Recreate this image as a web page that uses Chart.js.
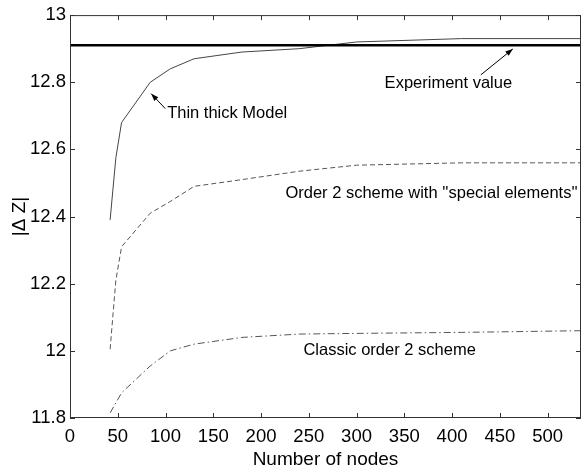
<!DOCTYPE html>
<html>
<head>
<meta charset="utf-8">
<script src="https://cdn.jsdelivr.net/npm/chart.js@4"></script>
<style>
  html, body { margin: 0; padding: 0; background: #fff; }
</style>
</head>
<body>
<canvas id="nodesChart" width="582" height="473"></canvas>
<script>
// values
const nodes = [42, 48, 54, 84, 105, 130, 180, 240, 300, 410, 535];
const thinThick = [12.39, 12.575, 12.68, 12.80, 12.84, 12.87, 12.89, 12.90, 12.92, 12.93, 12.93];
const order2Special = [12.005, 12.21, 12.31, 12.41, 12.445, 12.49, 12.51, 12.535, 12.553, 12.56, 12.56];
const classicOrder2 = [11.815, 11.845, 11.875, 11.955, 12.0, 12.02, 12.04, 12.05, 12.052, 12.055, 12.06];
const expNodes = [0, 535];
const expValue = [12.91, 12.91];

const xTicks = [0, 50, 100, 150, 200, 250, 300, 350, 400, 450, 500];
const yTicks = [11.8, 12, 12.2, 12.4, 12.6, 12.8, 13];

function pts(xs, ys) {
    return xs.map((x, i) => ({ x: x, y: ys[i] }));
}

const FONT = '"Liberation Sans", Arial, sans-serif';

// labels with arrows, placed in data units
const notes = [
    { text: 'Thin thick Model', x: 101.7, y: 12.707, arrow: [99.7, 12.7215, 85.0, 12.766] },
    { text: 'Experiment value', x: 329.4, y: 12.796, arrow: [430.1, 12.822, 463.6, 12.899] },
    { text: "Order 2 scheme with ''special elements''", x: 225.5, y: 12.470 },
    { text: 'Classic order 2 scheme', x: 244.4, y: 12.0015 }
];

const framePlugin = {
    id: 'frame',
    afterDraw(chart) {
        const ctx = chart.ctx;
        const a = chart.chartArea;
        const xs = chart.scales.x, ys = chart.scales.y;
        ctx.save();
        ctx.strokeStyle = '#333';
        ctx.lineWidth = 1;
        ctx.strokeRect(a.left + 0.5, a.top + 0.5, a.right - a.left - 1, a.bottom - a.top - 1);
        ctx.beginPath();
        xTicks.forEach(v => {
            const px = Math.round(xs.getPixelForValue(v)) + 0.5;
            ctx.moveTo(px, a.bottom); ctx.lineTo(px, a.bottom - 5);
            ctx.moveTo(px, a.top); ctx.lineTo(px, a.top + 5);
        });
        yTicks.forEach(v => {
            const py = Math.round(ys.getPixelForValue(v)) + 0.5;
            ctx.moveTo(a.left, py); ctx.lineTo(a.left + 5, py);
            ctx.moveTo(a.right, py); ctx.lineTo(a.right - 5, py);
        });
        ctx.stroke();

        // annotations
        ctx.fillStyle = '#000';
        ctx.strokeStyle = '#000';
        ctx.font = '16.5px ' + FONT;
        ctx.textBaseline = 'middle';
        ctx.textAlign = 'left';
        notes.forEach(n => {
            ctx.fillText(n.text, xs.getPixelForValue(n.x), ys.getPixelForValue(n.y));
            if (n.arrow) {
                const x1 = xs.getPixelForValue(n.arrow[0]), y1 = ys.getPixelForValue(n.arrow[1]);
                const x2 = xs.getPixelForValue(n.arrow[2]), y2 = ys.getPixelForValue(n.arrow[3]);
                const ang = Math.atan2(y2 - y1, x2 - x1);
                ctx.lineWidth = 1;
                ctx.beginPath();
                ctx.moveTo(x1, y1); ctx.lineTo(x2, y2);
                ctx.stroke();
                ctx.beginPath();
                ctx.moveTo(x2, y2);
                ctx.lineTo(x2 - 8 * Math.cos(ang - 0.35), y2 - 8 * Math.sin(ang - 0.35));
                ctx.lineTo(x2 - 8 * Math.cos(ang + 0.35), y2 - 8 * Math.sin(ang + 0.35));
                ctx.closePath();
                ctx.fill();
            }
        });
        ctx.restore();
    }
};

const ctx = document.getElementById('nodesChart').getContext('2d');
new Chart(ctx, {
    type: 'line',
    data: {
        datasets: [{
            label: 'Experiment value',
            data: pts(expNodes, expValue),
            borderColor: '#000',
            borderWidth: 2.5
        }, {
            label: 'Thin thick Model',
            data: pts(nodes, thinThick),
            borderColor: '#444',
            borderWidth: 1
        }, {
            label: 'Order 2 scheme with "special elements"',
            data: pts(nodes, order2Special),
            borderColor: '#555',
            borderWidth: 1,
            borderDash: [5, 3]
        }, {
            label: 'Classic order 2 scheme',
            data: pts(nodes, classicOrder2),
            borderColor: '#555',
            borderWidth: 1,
            borderDash: [7, 3, 1.5, 3]
        }]
    },
    options: {
        responsive: false,
        animation: false,
        devicePixelRatio: 1,
        layout: { padding: { top: 13, right: 1, left: 0, bottom: 0 } },
        elements: {
            point: { radius: 0 },
            line: { tension: 0 }
        },
        plugins: {
            legend: { display: false },
            tooltip: { enabled: false }
        },
        scales: {
            x: {
                type: 'linear',
                min: 0,
                max: 535,
                grid: { display: false, drawTicks: false },
                border: { display: false },
                afterBuildTicks: s => { s.ticks = xTicks.map(v => ({ value: v })); },
                afterFit: s => { s.height = 55; },
                ticks: {
                    color: '#000',
                    font: { family: FONT, size: 18.5 },
                    padding: 8,
                    maxRotation: 0
                },
                title: {
                    display: true,
                    text: 'Number of nodes',
                    color: '#000',
                    font: { family: FONT, size: 19 },
                    padding: { top: 0, bottom: 1.6 }
                }
            },
            y: {
                min: 11.8,
                max: 13,
                grid: { display: false, drawTicks: false },
                border: { display: false },
                afterBuildTicks: s => { s.ticks = yTicks.map(v => ({ value: v })); },
                afterFit: s => { s.width = 70; },
                ticks: {
                    color: '#000',
                    font: { family: FONT, size: 18.5 },
                    padding: 4,
                    callback: v => String(Number(v.toFixed(1)))
                },
                title: {
                    display: true,
                    text: '|\u0394 Z|',
                    color: '#000',
                    font: { family: FONT, size: 19 },
                    padding: { top: 8.6, bottom: 0 }
                }
            }
        }
    },
    plugins: [framePlugin]
});
</script>
</body>
</html>
